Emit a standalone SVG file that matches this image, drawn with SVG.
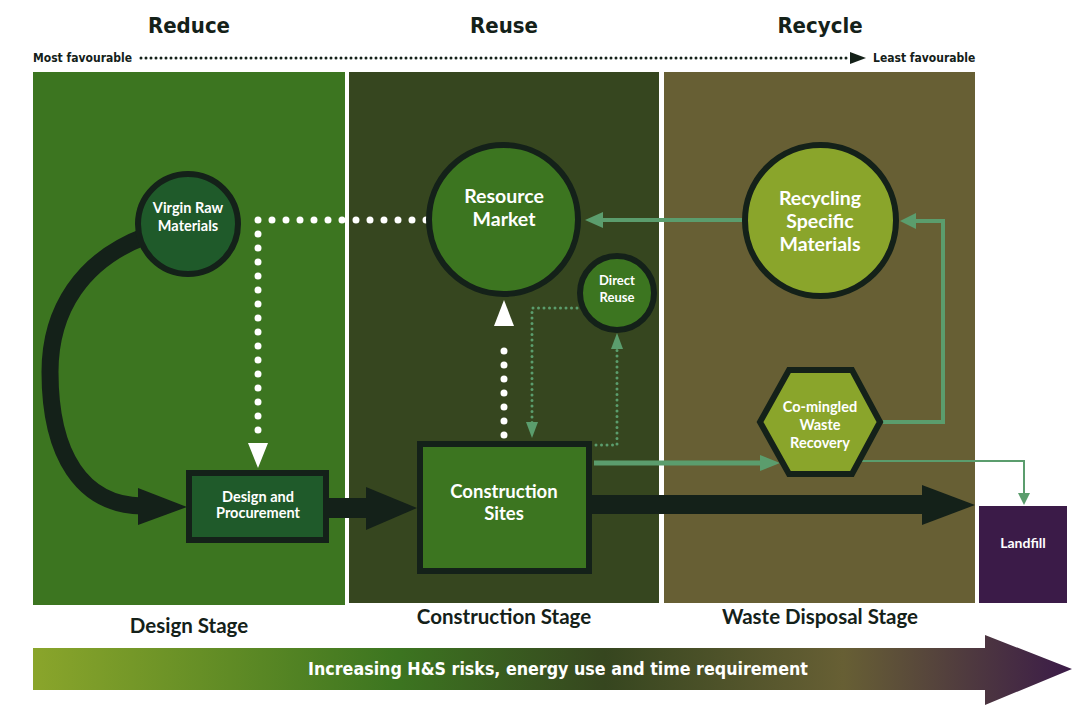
<svg xmlns="http://www.w3.org/2000/svg" width="1084" height="713" viewBox="0 0 1084 713">
<defs>
<style>
.hdr{font-family:"DejaVu Sans Condensed","DejaVu Sans",sans-serif;font-weight:bold;fill:#142119;text-anchor:middle}
.fav{font-family:"DejaVu Sans Condensed","DejaVu Sans",sans-serif;font-weight:bold;font-size:12px;fill:#142119}
.lbl{font-family:Lato,"Open Sans",sans-serif;font-weight:bold;fill:#ffffff;text-anchor:middle}
.stage{font-family:Lato,"Open Sans",sans-serif;font-weight:bold;font-size:20.5px;fill:#142119;text-anchor:middle}
.node{stroke:#142119;stroke-width:6}
.wdot{fill:none;stroke:#ffffff;stroke-width:7;stroke-linecap:round;stroke-dasharray:0 14}
.gdot{fill:none;stroke:#5b9d6d;stroke-width:3;stroke-linecap:round;stroke-dasharray:0 5.5}
.gline{fill:none;stroke:#5b9d6d}
</style>
<linearGradient id="bar" x1="33" y1="0" x2="1072" y2="0" gradientUnits="userSpaceOnUse">
<stop offset="0" stop-color="#8aa52b"/>
<stop offset="0.35" stop-color="#3c7520"/>
<stop offset="0.55" stop-color="#36461f"/>
<stop offset="0.78" stop-color="#675f34"/>
<stop offset="1" stop-color="#3b1b48"/>
</linearGradient>
</defs>
<rect width="1084" height="713" fill="#ffffff"/>

<g id="headers">
<text class="hdr" x="189" y="33" font-size="22">Reduce</text>
<text class="hdr" x="504" y="33" font-size="22">Reuse</text>
<text class="hdr" x="820" y="33" font-size="22">Recycle</text>
<text class="fav" x="33" y="62">Most favourable</text>
<text class="fav" x="873" y="62">Least favourable</text>
<line x1="141" y1="58" x2="850" y2="58" stroke="#142119" stroke-width="3" stroke-linecap="round" stroke-dasharray="0 5"/>
<polygon points="850,52 866,58 850,64" fill="#142119"/>
</g>

<g id="panels">
<rect id="panel-design" x="33" y="72" width="312" height="533" fill="#3c7520"/>
<rect id="panel-construction" x="349" y="72" width="310" height="531" fill="#36461f"/>
<rect id="panel-waste" x="664" y="72" width="311" height="531" fill="#675f34"/>
</g>

<g id="connectors">
<path d="M 146 236 C 82 260 50 310 50 372 C 50 455 82 505 142 506" fill="none" stroke="#142119" stroke-width="17"/>
<polygon points="138,488 187,507 138,525" fill="#142119"/>
<rect x="329" y="498" width="40" height="20" fill="#142119"/>
<polygon points="366,487 417,508 366,530" fill="#142119"/>
<rect x="592" y="495" width="334" height="19" fill="#142119"/>
<polygon points="922,485 975,505 922,525" fill="#142119"/>
<path class="wdot" d="M 426 220 L 258 220 L 258 442"/>
<polygon points="248,443 268,443 258,468" fill="#ffffff"/>
<path class="wdot" d="M 504 435 L 504 340"/>
<polygon points="494,326 514,326 504,300" fill="#ffffff"/>
<path class="gdot" d="M 577 308 L 532 308 L 532 423"/>
<polygon points="526,422 538,422 532,438" fill="#5b9d6d"/>
<path class="gdot" d="M 596 445 L 617 445 L 617 349"/>
<polygon points="611,349 623,349 617,333" fill="#5b9d6d"/>
<line class="gline" x1="594" y1="463" x2="762" y2="463" stroke-width="5"/>
<polygon points="760,455 780,463 760,471" fill="#5b9d6d"/>
<path class="gline" d="M 883 422 L 943 422 L 943 221 L 915 221" stroke-width="4"/>
<polygon points="916,213 900,221 916,229" fill="#5b9d6d"/>
<line class="gline" x1="742" y1="220" x2="600" y2="220" stroke-width="4"/>
<polygon points="603,212 585,220 603,228" fill="#5b9d6d"/>
<path class="gline" d="M 862 461 L 1024 461 L 1024 494" stroke-width="2"/>
<polygon points="1018,493 1030,493 1024,505" fill="#5b9d6d"/>
</g>

<g id="virgin-raw-materials">
<circle class="node" cx="188" cy="224" r="50" fill="#1f5a2a"/>
<text class="lbl" x="188" y="213" font-size="14.5">Virgin Raw</text>
<text class="lbl" x="188" y="231" font-size="14.5">Materials</text>
</g>

<g id="design-procurement">
<rect class="node" x="189" y="473" width="137" height="67" fill="#1f5a2a"/>
<text class="lbl" x="258" y="502" font-size="14.5">Design and</text>
<text class="lbl" x="258" y="518" font-size="14.5">Procurement</text>
</g>

<g id="resource-market">
<circle class="node" cx="503.5" cy="219.5" r="74.5" fill="#3c7520"/>
<text class="lbl" x="504" y="203" font-size="19.5">Resource</text>
<text class="lbl" x="504" y="226" font-size="19.5">Market</text>
</g>

<g id="direct-reuse">
<circle class="node" cx="617" cy="293" r="37" fill="#3c7520"/>
<text class="lbl" x="617" y="285" font-size="13">Direct</text>
<text class="lbl" x="617" y="302" font-size="13">Reuse</text>
</g>

<g id="construction-sites">
<rect class="node" x="420" y="444" width="169" height="127" fill="#3c7520"/>
<text class="lbl" x="504" y="498" font-size="18.5">Construction</text>
<text class="lbl" x="504" y="520" font-size="18.5">Sites</text>
</g>

<g id="recycling-specific-materials">
<circle class="node" cx="820.5" cy="220.5" r="75.5" fill="#8aa52b"/>
<text class="lbl" x="820" y="205" font-size="19.5">Recycling</text>
<text class="lbl" x="820" y="228" font-size="19.5">Specific</text>
<text class="lbl" x="820" y="251" font-size="19.5">Materials</text>
</g>

<g id="co-mingled-waste-recovery">
<polygon class="node" points="789,370 852,370 880,422 852,474 789,474 760,422" fill="#8aa52b"/>
<text class="lbl" x="820" y="412" font-size="14.5">Co-mingled</text>
<text class="lbl" x="820" y="430" font-size="14.5">Waste</text>
<text class="lbl" x="820" y="448" font-size="14.5">Recovery</text>
</g>

<g id="landfill">
<rect x="979" y="506" width="88" height="97" fill="#3b1b48"/>
<text class="lbl" x="1023" y="548" font-size="14">Landfill</text>
</g>

<g id="stage-labels">
<text class="stage" x="189" y="633">Design Stage</text>
<text class="stage" x="504" y="624">Construction Stage</text>
<text class="stage" x="820" y="624">Waste Disposal Stage</text>
</g>

<g id="bottom-arrow">
<polygon points="33,648 985,648 985,635 1072,669 985,705 985,690 33,690" fill="url(#bar)"/>
<text x="558" y="675" font-family="DejaVu Sans Condensed, DejaVu Sans, sans-serif" font-weight="bold" font-size="17.7" fill="#ffffff" text-anchor="middle">Increasing H&amp;S risks, energy use and time requirement</text>
</g>
</svg>
